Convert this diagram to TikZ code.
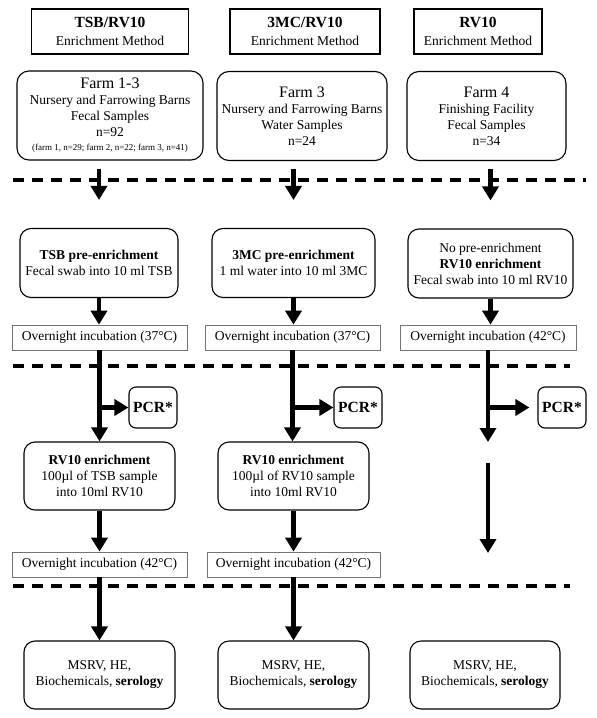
\documentclass[tikz,border=0pt]{standalone}
\usepackage{fontspec}
\setmainfont{Liberation Serif}
\usetikzlibrary{arrows.meta,positioning}

\newcommand{\normtxt}{\fontsize{13.5}{16}\selectfont}
\newcommand{\farmtxt}{\fontsize{16}{18}\selectfont}
\newcommand{\headtxt}{\fontsize{15.5}{18}\selectfont\bfseries}
\newcommand{\smalltxt}{\fontsize{9}{11}\selectfont}
\newcommand{\pcrtxt}{\fontsize{15.5}{18}\selectfont\bfseries}

\tikzset{
  method/.style={draw, line width=1.2pt, minimum height=45pt, align=center, font=\normtxt},
  farm/.style={draw, rounded corners=12pt, line width=1.1pt, minimum height=89pt, inner ysep=2pt, align=center, font=\normtxt},
  stage/.style={draw, rounded corners=11pt, line width=1.1pt, minimum height=69pt, align=center, font=\normtxt},
  incub/.style={draw=black!55, line width=0.7pt, minimum width=175pt, minimum height=25pt, inner sep=0pt, font=\normtxt},
  pcr/.style={draw, rounded corners=7pt, line width=1.1pt, minimum width=48pt, minimum height=41pt, inner sep=0pt, font=\pcrtxt},
  flow/.style={line width=4.5pt, -{Triangle[width=16pt,length=14pt]}},
  divider/.style={line width=3.5pt, dash pattern=on 11pt off 8pt}
}

\begin{document}
\begin{tikzpicture}[x=1pt,y=-1pt]
\useasboundingbox (0,0) rectangle (597,718);

% methods
\node[method, minimum width=157pt] (tsbHead) at (110,31.5) {{\headtxt TSB/RV10}\\[2pt]Enrichment Method};
\node[method, minimum width=150pt] (mcHead) at (305,31.5) {{\headtxt 3MC/RV10}\\[2pt]Enrichment Method};
\node[method, minimum width=128pt] (rvHead) at (478,31.5) {{\headtxt RV10}\\[2pt]Enrichment Method};

% samples
\node[farm, minimum width=186pt] (farmA) at (110,115.5) {{\farmtxt Farm 1-3}\\Nursery and Farrowing Barns\\Fecal Samples\\n=92\\[-2pt]{\smalltxt (farm 1, n=29; farm 2, n=22; farm 3, n=41)}};
\node[farm, minimum width=170pt] (farmB) at (302,116) {{\farmtxt Farm 3}\\Nursery and Farrowing Barns\\Water Samples\\n=24};
\node[farm, minimum width=159pt] (farmC) at (486.5,116) {{\farmtxt Farm 4}\\Finishing Facility\\Fecal Samples\\n=34};

% first enrichment
\node[stage, minimum width=158pt] (preA) at (99,263) {\textbf{TSB pre-enrichment}\\Fecal swab into 10 ml TSB};
\node[stage, minimum width=163pt] (preB) at (293.5,263) {\textbf{3MC pre-enrichment}\\1 ml water into 10 ml 3MC};
\node[stage, minimum width=165pt] (preC) at (490.5,263.5) {No pre-enrichment\\\textbf{RV10 enrichment}\\Fecal swab into 10 ml RV10};

\node[incub] (incA) at (99.5,337.5) {Overnight incubation (37°C)};
\node[incub] (incB) at (292.5,337.5) {Overnight incubation (37°C)};
\node[incub, minimum width=176pt] (incC) at (488,337.5) {Overnight incubation (42°C)};

\node[pcr] (pcrA) at (153,407.5) {PCR*};
\node[pcr] (pcrB) at (358,407.5) {PCR*};
\node[pcr] (pcrC) at (562,407.5) {PCR*};

% second enrichment
\node[stage, minimum width=151pt, minimum height=68pt] (enrA) at (99.5,476) {\textbf{RV10 enrichment}\\100µl of TSB sample\\into 10ml RV10};
\node[stage, minimum width=151pt, minimum height=68pt] (enrB) at (293.5,476) {\textbf{RV10 enrichment}\\100µl of RV10 sample\\into 10ml RV10};

\node[incub] (incA2) at (99.5,564.5) {Overnight incubation (42°C)};
\node[incub, minimum width=173pt] (incB2) at (293.5,564.5) {Overnight incubation (42°C)};

% tests
\node[stage, minimum width=151pt, minimum height=68pt] (testA) at (99.5,675) {MSRV, HE,\\Biochemicals, \textbf{serology}};
\node[stage, minimum width=151pt, minimum height=68pt] (testB) at (293.5,675) {MSRV, HE,\\Biochemicals, \textbf{serology}};
\node[stage, minimum width=150pt, minimum height=68pt] (testC) at (485,675) {MSRV, HE,\\Biochemicals, \textbf{serology}};

\coordinate (stopC) at (488,442);
\coordinate (restartC) at (488,463);
\coordinate (endC) at (488,553);

% dividers
\draw[divider] (13,180) -- (586,180);
\draw[divider] (13,366) -- (570,366);
\draw[divider] (13,586) -- (570,586);

% arrows
\draw[flow, shorten <=8pt, shorten >=28pt] (farmA.south -| preA.north) -- (preA.north);
\draw[flow, shorten <=8pt, shorten >=28pt] (farmB.south -| preB.north) -- (preB.north);
\draw[flow, shorten <=8pt, shorten >=28pt] (farmC.south -| preC.north) -- (preC.north);

\draw[flow] (preA.south) -- (preA.south |- incA.north);
\draw[flow] (preB.south) -- (preB.south |- incB.north);
\draw[flow] (preC.south) -- (preC.south |- incC.north);

\draw[flow] (incA.south) -- (incA.south |- enrA.north);
\draw[flow] (incB.south) -- (incB.south |- enrB.north);
\draw[flow] (incC.south) -- (stopC);
\draw[flow] (pcrA.west -| incA.south) -- (pcrA.west);
\draw[flow] (pcrB.west -| incB.south) -- (pcrB.west);
\draw[flow, shorten >=8pt] (pcrC.west -| incC.south) -- (pcrC.west);
\draw[flow, line width=4pt] (restartC) -- (endC);

\draw[flow] (enrA.south) -- (incA2.north);
\draw[flow] (enrB.south) -- (incB2.north);
\draw[flow] (incA2.south) -- (testA.north);
\draw[flow] (incB2.south) -- (testB.north);
\end{tikzpicture}
\end{document}
